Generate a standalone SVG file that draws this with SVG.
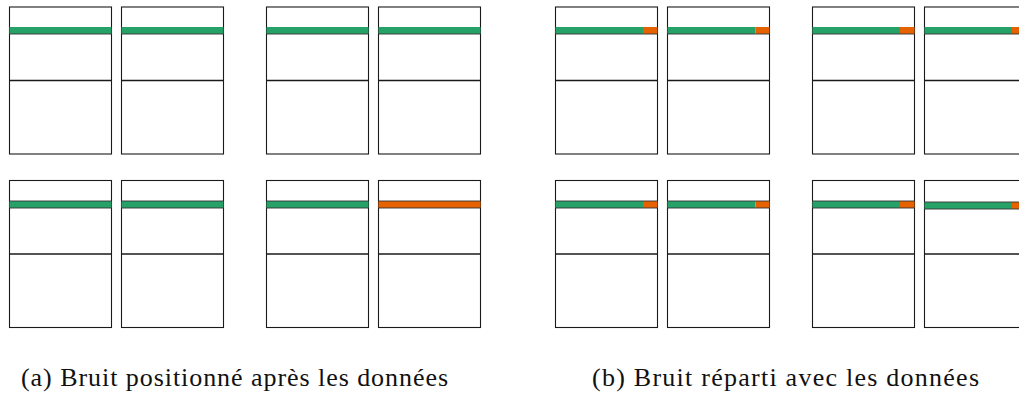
<svg xmlns="http://www.w3.org/2000/svg" width="1019" height="394" viewBox="0 0 1019 394">
<style>
.frame{fill:#fff;stroke:#1a1a1a;stroke-width:1.1}
.mid{stroke:#1a1a1a;stroke-width:1.3}
.g{fill:#26a269}
.o{fill:#e66100}
.bl{stroke:#333;stroke-width:0.9}
.cap{fill:#111;font-family:"Liberation Serif","Times New Roman",serif;font-size:26px}
</style>
<defs>
<g id="box">
<rect class="frame" x="0" y="0" width="102" height="147"/>
<line class="mid" x1="0" y1="73.5" x2="102" y2="73.5"/>
</g>
</defs>
<g id="panel-a">
<g id="a1"><use href="#box" x="9.5" y="7"/><rect class="g" x="9.5" y="27" width="102" height="7"/><line class="bl" x1="9.5" y1="34" x2="111.5" y2="34"/></g>
<g id="a2"><use href="#box" x="121.5" y="7"/><rect class="g" x="121.5" y="27" width="102" height="7"/><line class="bl" x1="121.5" y1="34" x2="223.5" y2="34"/></g>
<g id="a3"><use href="#box" x="266.5" y="7"/><rect class="g" x="266.5" y="27" width="102" height="7"/><line class="bl" x1="266.5" y1="34" x2="368.5" y2="34"/></g>
<g id="a4"><use href="#box" x="378.5" y="7"/><rect class="g" x="378.5" y="27" width="102" height="7"/><line class="bl" x1="378.5" y1="34" x2="480.5" y2="34"/></g>
<g id="a5"><use href="#box" x="9.5" y="180.5"/><rect class="g" x="9.5" y="201" width="102" height="7"/><line class="bl" x1="9.5" y1="201" x2="111.5" y2="201"/><line class="bl" x1="9.5" y1="208" x2="111.5" y2="208"/></g>
<g id="a6"><use href="#box" x="121.5" y="180.5"/><rect class="g" x="121.5" y="201" width="102" height="7"/><line class="bl" x1="121.5" y1="201" x2="223.5" y2="201"/><line class="bl" x1="121.5" y1="208" x2="223.5" y2="208"/></g>
<g id="a7"><use href="#box" x="266.5" y="180.5"/><rect class="g" x="266.5" y="201" width="102" height="7"/><line class="bl" x1="266.5" y1="201" x2="368.5" y2="201"/><line class="bl" x1="266.5" y1="208" x2="368.5" y2="208"/></g>
<g id="a8"><use href="#box" x="378.5" y="180.5"/><rect class="o" x="378.5" y="201" width="102" height="7"/><line class="bl" x1="378.5" y1="201" x2="480.5" y2="201"/><line class="bl" x1="378.5" y1="208" x2="480.5" y2="208"/></g>
</g>
<g id="panel-b">
<g id="b1"><use href="#box" x="555.5" y="7"/><rect class="g" x="555.5" y="27" width="87.5" height="7"/><rect class="o" x="643" y="27" width="14.5" height="7"/><line class="bl" x1="555.5" y1="34" x2="657.5" y2="34"/></g>
<g id="b2"><use href="#box" x="667.5" y="7"/><rect class="g" x="667.5" y="27" width="88" height="7"/><rect class="o" x="755.5" y="27" width="14" height="7"/><line class="bl" x1="667.5" y1="34" x2="769.5" y2="34"/></g>
<g id="b3"><use href="#box" x="812.5" y="7"/><rect class="g" x="812.5" y="27" width="87.5" height="7"/><rect class="o" x="900" y="27" width="14.5" height="7"/><line class="bl" x1="812.5" y1="34" x2="914.5" y2="34"/></g>
<g id="b4"><use href="#box" x="924.5" y="7"/><rect class="g" x="924.5" y="27" width="87.5" height="7"/><rect class="o" x="1012" y="27" width="14.5" height="7"/><line class="bl" x1="924.5" y1="34" x2="1026.5" y2="34"/></g>
<g id="b5"><use href="#box" x="555.5" y="180.5"/><rect class="g" x="555.5" y="201" width="87.5" height="7"/><rect class="o" x="643" y="201" width="14.5" height="7"/><line class="bl" x1="555.5" y1="201" x2="657.5" y2="201"/><line class="bl" x1="555.5" y1="208" x2="657.5" y2="208"/></g>
<g id="b6"><use href="#box" x="667.5" y="180.5"/><rect class="g" x="667.5" y="201" width="88" height="7"/><rect class="o" x="755.5" y="201" width="14" height="7"/><line class="bl" x1="667.5" y1="201" x2="769.5" y2="201"/><line class="bl" x1="667.5" y1="208" x2="769.5" y2="208"/></g>
<g id="b7"><use href="#box" x="812.5" y="180.5"/><rect class="g" x="812.5" y="201" width="87.5" height="7"/><rect class="o" x="900" y="201" width="14.5" height="7"/><line class="bl" x1="812.5" y1="201" x2="914.5" y2="201"/><line class="bl" x1="812.5" y1="208" x2="914.5" y2="208"/></g>
<g id="b8"><use href="#box" x="924.5" y="180.5"/><rect class="g" x="924.5" y="202" width="87.5" height="7"/><rect class="o" x="1012" y="202" width="14.5" height="7"/><line class="bl" x1="924.5" y1="202" x2="1026.5" y2="202"/><line class="bl" x1="924.5" y1="209" x2="1026.5" y2="209"/></g>
</g>
<g id="captions">
<text class="cap" x="21" y="386" textLength="427" lengthAdjust="spacing">(a) Bruit positionné après les données</text>
<text class="cap" x="592" y="386" textLength="387" lengthAdjust="spacing">(b) Bruit réparti avec les données</text>
</g>
</svg>
